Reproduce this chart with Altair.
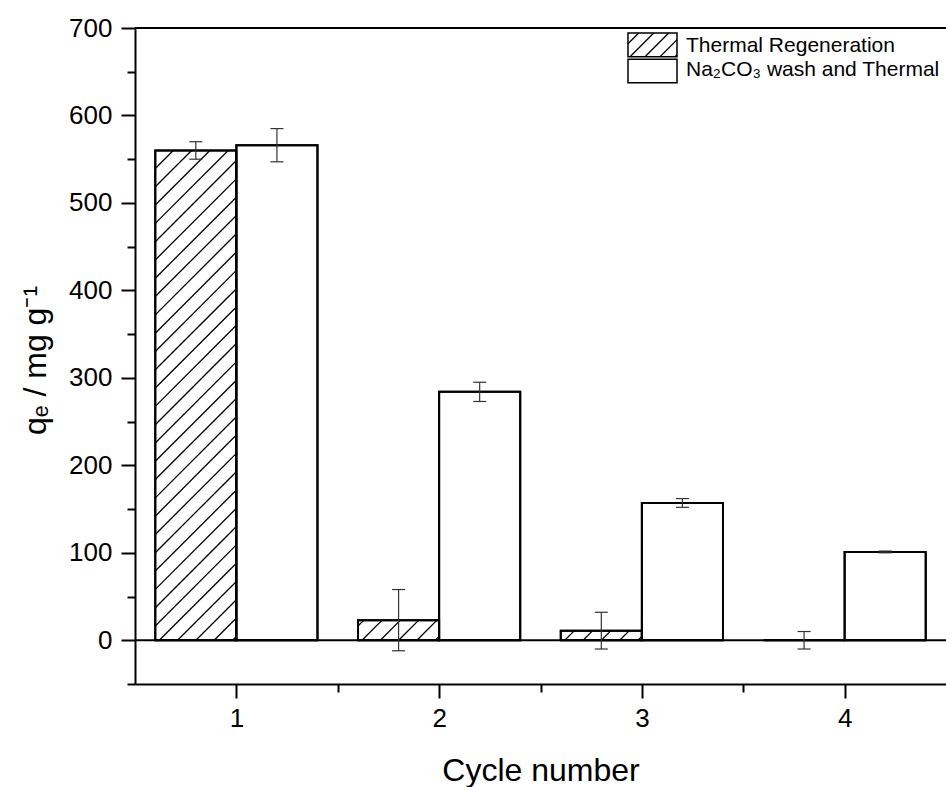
import altair as alt
import pandas as pd

# Adsorption capacity over regeneration cycles
cycles = [1, 2, 3, 4]
thermal = [560, 23, 11, 0]
thermal_err = [10, 35, 21, 10]
wash = [566, 284, 157, 101]
wash_err = [19, 11, 5, 1]
series_names = ["Thermal Regeneration", "Na\u2082CO\u2083 wash and Thermal"]

y_ticks = [0, 100, 200, 300, 400, 500, 600, 700]
y_minor = [-50, 50, 150, 250, 350, 450, 550, 650]
x_ticks = [1, 2, 3, 4]
x_minor = [1.5, 2.5, 3.5]

# plot geometry
W, H = 811, 656
X_DOM = [0.5, 4.5]
Y_DOM = [-50, 700]
PX_X = W / (X_DOM[1] - X_DOM[0])
PX_Y = H / (Y_DOM[1] - Y_DOM[0])
BAR_W = 0.4
HATCH_STEP = 18.3
HATCH_OFFSET = 4.0
CAP_HALF = 6.5  # px

FONT = "Liberation Sans"

# bars: thermal to the left of each cycle, wash to the right
bar_rows = []
err_rows = []
for c, tv, te, wv, we in zip(cycles, thermal, thermal_err, wash, wash_err):
    bar_rows.append({"series": series_names[0], "x0": c - BAR_W, "x1": c, "v": tv, "base": 0})
    bar_rows.append({"series": series_names[1], "x0": c, "x1": c + BAR_W, "v": wv, "base": 0})
    for xc, v, e in [(c - BAR_W / 2, tv, te), (c + BAR_W / 2, wv, we)]:
        err_rows.append({"xc": xc, "xl": xc - CAP_HALF / PX_X, "xr": xc + CAP_HALF / PX_X,
                         "lo": v - e, "hi": v + e})
bars = pd.DataFrame(bar_rows)
errs = pd.DataFrame(err_rows)


def hatch_segments(w, h, step, offset):
    """45-degree hatch lines clipped to a w x h box (pixel units, origin bottom-left)."""
    segs = []
    c = offset
    while c - step > -h:
        c -= step
    while c < w:
        u0 = max(0.0, c)
        u1 = min(w, h + c)
        if u1 > u0:
            segs.append((u0, u0 - c, u1, u1 - c))
        c += step
    return segs


hatch_rows = []
for r in bar_rows:
    if r["series"] != series_names[0] or r["v"] <= 0:
        continue
    w_px = (r["x1"] - r["x0"]) * PX_X
    h_px = r["v"] * PX_Y
    for u0, v0, u1, v1 in hatch_segments(w_px, h_px, HATCH_STEP, HATCH_OFFSET):
        hatch_rows.append({"x": r["x0"] + u0 / PX_X, "y": v0 / PX_Y,
                           "x2": r["x0"] + u1 / PX_X, "y2": v1 / PX_Y})
hatch = pd.DataFrame(hatch_rows)

xs = alt.Scale(domain=X_DOM, nice=False, zero=False)
ys = alt.Scale(domain=Y_DOM, nice=False, zero=False)

bar_layer = alt.Chart(bars).mark_rect(fill="white", stroke="black", strokeWidth=2).encode(
    x=alt.X("x0:Q", scale=xs,
            axis=alt.Axis(values=x_ticks, title="Cycle number", orient="bottom",
                          tickSize=14, tickWidth=2, labelPadding=7,
                          titleY=96, titleBaseline="alphabetic", titleFontSize=32,
                          titleFontWeight="normal")),
    x2="x1:Q",
    y=alt.Y("v:Q", scale=ys,
            axis=alt.Axis(values=y_ticks, title="q\u2091 / mg g\u207b\u00b9", orient="left",
                          tickSize=14, tickWidth=2, labelPadding=9,
                          titleAngle=-90, titleX=-90, titleY=332,
                          titleBaseline="alphabetic", titleFontSize=32,
                          titleFontWeight="normal")),
    y2="base:Q",
)

hatch_layer = alt.Chart(hatch).mark_rule(color="black", strokeWidth=1.3).encode(
    x=alt.X("x:Q", scale=xs, axis=None), x2="x2:Q",
    y=alt.Y("y:Q", scale=ys, axis=None), y2="y2:Q",
)

# outline redrawn over hatch lines
outline_layer = alt.Chart(bars).mark_rect(fill=None, stroke="black", strokeWidth=2).encode(
    x=alt.X("x0:Q", scale=xs, axis=None), x2="x1:Q",
    y=alt.Y("v:Q", scale=ys, axis=None), y2="base:Q",
)

err_v = alt.Chart(errs).mark_rule(color="#333", strokeWidth=1.2).encode(
    x=alt.X("xc:Q", scale=xs, axis=None),
    y=alt.Y("lo:Q", scale=ys, axis=None), y2="hi:Q",
)
err_lo = alt.Chart(errs).mark_rule(color="#333", strokeWidth=1.2).encode(
    x=alt.X("xl:Q", scale=xs, axis=None), x2="xr:Q",
    y=alt.Y("lo:Q", scale=ys, axis=None),
)
err_hi = alt.Chart(errs).mark_rule(color="#333", strokeWidth=1.2).encode(
    x=alt.X("xl:Q", scale=xs, axis=None), x2="xr:Q",
    y=alt.Y("hi:Q", scale=ys, axis=None),
)

# minor ticks on both axes
minor_x = alt.Chart(pd.DataFrame({"m": x_minor})).mark_point(opacity=0).encode(
    x=alt.X("m:Q", scale=xs,
            axis=alt.Axis(values=x_minor, orient="bottom", labels=False, domain=False,
                          tickSize=8, tickWidth=2, title=None)),
)
minor_y = alt.Chart(pd.DataFrame({"m": y_minor})).mark_point(opacity=0).encode(
    y=alt.Y("m:Q", scale=ys,
            axis=alt.Axis(values=y_minor, orient="left", labels=False, domain=False,
                          tickSize=8, tickWidth=2, title=None)),
)

zero_line = alt.Chart(pd.DataFrame({"z": [0]})).mark_rule(color="black", strokeWidth=2).encode(
    y=alt.Y("z:Q", scale=ys, axis=None), x=alt.value(0), x2=alt.value(W),
)
top_line = alt.Chart(pd.DataFrame({"z": [0]})).mark_rule(color="black", strokeWidth=2).encode(
    y=alt.value(0), x=alt.value(0), x2=alt.value(W),
)

# legend (pixel positions inside the plot area)
LX0, LX1 = 493, 542
LEG_ROWS = [(5, 28.7), (31.3, 54.7)]
leg_boxes = pd.DataFrame({
    "x0": [LX0, LX0], "x1": [LX1, LX1],
    "y0": [LEG_ROWS[0][0], LEG_ROWS[1][0]], "y1": [LEG_ROWS[0][1], LEG_ROWS[1][1]],
})
leg_hatch_rows = []
bw, bh = LX1 - LX0, LEG_ROWS[0][1] - LEG_ROWS[0][0]
for u0, v0, u1, v1 in hatch_segments(bw, bh, 15.0, 2.0):
    leg_hatch_rows.append({"x": LX0 + u0, "y": LEG_ROWS[0][1] - v0,
                           "x2": LX0 + u1, "y2": LEG_ROWS[0][1] - v1})
leg_hatch = pd.DataFrame(leg_hatch_rows)
leg_text = pd.DataFrame({"label": series_names, "x": [551, 551], "y": [24, 48]})

leg_hatch_layer = alt.Chart(leg_hatch).mark_rule(color="black", strokeWidth=1.3).encode(
    x=alt.X("x:Q", scale=None, axis=None), x2="x2:Q",
    y=alt.Y("y:Q", scale=None, axis=None), y2="y2:Q",
)
leg_box_layer = alt.Chart(leg_boxes).mark_rect(fill=None, stroke="black", strokeWidth=1.5).encode(
    x=alt.X("x0:Q", scale=None, axis=None), x2="x1:Q",
    y=alt.Y("y0:Q", scale=None, axis=None), y2="y1:Q",
)
leg_text_layer = alt.Chart(leg_text).mark_text(
    align="left", baseline="alphabetic", fontSize=21, font=FONT, color="black"
).encode(
    x=alt.X("x:Q", scale=None, axis=None),
    y=alt.Y("y:Q", scale=None, axis=None),
    text="label:N",
)

chart = alt.layer(
    bar_layer, hatch_layer, outline_layer, zero_line, top_line,
    err_v, err_lo, err_hi, minor_x, minor_y,
    leg_hatch_layer, leg_box_layer, leg_text_layer,
).resolve_axis(x="independent", y="independent").properties(
    width=W, height=H,
    autosize="none",
    padding={"left": 135, "top": 28, "right": 0, "bottom": 103},
    background="white",
).configure_view(stroke=None).configure_axis(
    domainColor="black", domainWidth=2, tickColor="black",
    labelFont=FONT, titleFont=FONT, labelFontSize=26, labelColor="black",
    titleColor="black", grid=False,
)

chart.save("out.html", embed_options={"renderer": "svg", "actions": False})
